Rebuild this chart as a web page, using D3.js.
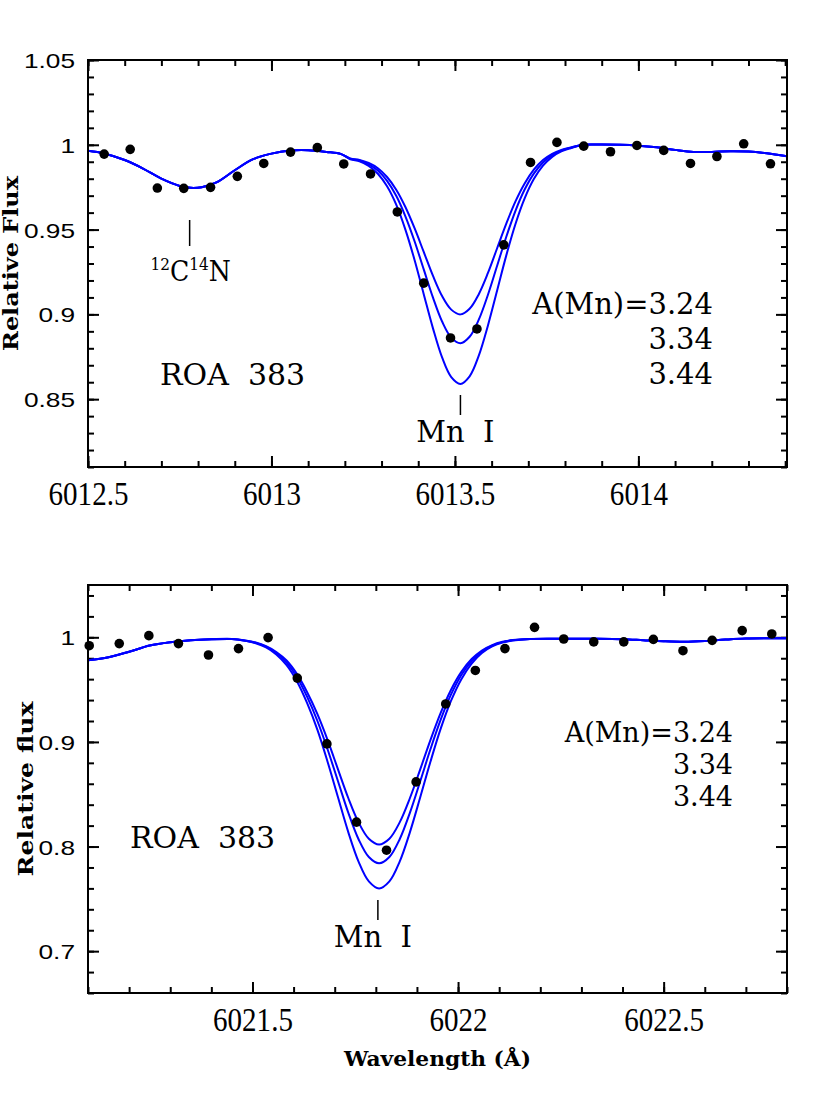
<!DOCTYPE html>
<html>
<head>
<meta charset="utf-8">
<script src="https://cdn.jsdelivr.net/npm/d3@7"></script>
<style>
  body { margin: 0; background: #fff; }
</style>
</head>
<body>
<div id="chart"></div>
<script>

// ---- data: top panel (Mn I 6013.5) ----
var topObsWave = [6012.544, 6012.615, 6012.689, 6012.761, 6012.834, 6012.907, 6012.979, 6013.052, 6013.125,
  6013.197, 6013.270, 6013.343, 6013.415, 6013.488, 6013.560, 6013.633, 6013.706, 6013.778, 6013.851,
  6013.924, 6013.996, 6014.069, 6014.142, 6014.214, 6014.287, 6014.360];
var topObsFlux = [0.9945, 0.9973, 0.9745, 0.9743, 0.9749, 0.9814, 0.9890, 0.9957, 0.9983,
  0.9887, 0.9828, 0.9604, 0.9184, 0.8861, 0.8914, 0.9410, 0.9896, 1.0014, 0.9992,
  0.9959, 0.9996, 0.9967, 0.9890, 0.9931, 1.0006, 0.9888];

var topModelWave = [6012.500, 6012.544, 6012.600, 6012.650, 6012.700, 6012.750, 6012.780, 6012.810,
  6012.850, 6012.900, 6012.950, 6013.000, 6013.050, 6013.100, 6013.150, 6013.190,
  6013.215, 6013.240, 6013.265, 6013.290, 6013.315, 6013.340, 6013.365, 6013.390, 6013.415,
  6013.440, 6013.465, 6013.490, 6013.515, 6013.540, 6013.565, 6013.590, 6013.615, 6013.640,
  6013.665, 6013.690, 6013.715, 6013.740, 6013.765, 6013.790, 6013.815,
  6013.850, 6013.900, 6013.950, 6014.000, 6014.050, 6014.100, 6014.150, 6014.200, 6014.250,
  6014.300, 6014.350, 6014.405];
var topModel324 = [0.9965, 0.9949, 0.9910, 0.9860, 0.9800, 0.9757, 0.9746, 0.9750,
  0.9778, 0.9850, 0.9915, 0.9948, 0.9966, 0.9968, 0.9958, 0.9945,
  0.9919, 0.9911, 0.9893, 0.9862, 0.9810, 0.9735, 0.9633, 0.9508, 0.9368,
  0.9228, 0.9108, 0.9028, 0.9000, 0.9033, 0.9119, 0.9244, 0.9390, 0.9535,
  0.9666, 0.9772, 0.9853, 0.9910, 0.9947, 0.9970, 0.9984,
  1.0000, 1.0001, 1.0000, 0.9995, 0.9985, 0.9970, 0.9958, 0.9958, 0.9962,
  0.9960, 0.9950, 0.9932];
var topModel334 = [0.9965, 0.9949, 0.9910, 0.9860, 0.9800, 0.9757, 0.9746, 0.9750,
  0.9778, 0.9850, 0.9915, 0.9948, 0.9966, 0.9968, 0.9958, 0.9945,
  0.9917, 0.9907, 0.9885, 0.9848, 0.9787, 0.9699, 0.9578, 0.9431, 0.9265,
  0.9100, 0.8958, 0.8863, 0.8830, 0.8868, 0.8969, 0.9116, 0.9287, 0.9458,
  0.9611, 0.9736, 0.9830, 0.9896, 0.9939, 0.9966, 0.9982,
  1.0000, 1.0001, 1.0000, 0.9995, 0.9985, 0.9970, 0.9958, 0.9958, 0.9962,
  0.9960, 0.9950, 0.9932];
var topModel344 = [0.9965, 0.9949, 0.9910, 0.9860, 0.9800, 0.9757, 0.9746, 0.9750,
  0.9778, 0.9850, 0.9915, 0.9948, 0.9966, 0.9968, 0.9958, 0.9945,
  0.9915, 0.9902, 0.9875, 0.9829, 0.9755, 0.9647, 0.9500, 0.9321, 0.9119,
  0.8919, 0.8746, 0.8630, 0.8590, 0.8635, 0.8757, 0.8935, 0.9141, 0.9348,
  0.9533, 0.9684, 0.9798, 0.9877, 0.9929, 0.9961, 0.9980,
  1.0000, 1.0001, 1.0000, 0.9995, 0.9985, 0.9970, 0.9958, 0.9958, 0.9962,
  0.9960, 0.9950, 0.9932];

var topXTicks = [6012.5, 6013, 6013.5, 6014];
var topYTicks = [0.85, 0.9, 0.95, 1, 1.05];

// ---- data: bottom panel (Mn I 6021.8) ----
var botObsWave = [6021.103, 6021.176, 6021.248, 6021.320, 6021.393, 6021.466, 6021.538, 6021.609,
  6021.681, 6021.753, 6021.826, 6021.898, 6021.970, 6022.042, 6022.114, 6022.186, 6022.257,
  6022.330, 6022.403, 6022.475, 6022.547, 6022.618, 6022.691, 6022.763];
var botObsFlux = [0.9920, 0.9940, 1.0016, 0.9940, 0.9831, 0.9892, 0.9997, 0.9610,
  0.8981, 0.8233, 0.7965, 0.8618, 0.9363, 0.9683, 0.9892, 1.0095, 0.9984,
  0.9956, 0.9956, 0.9980, 0.9872, 0.9971, 1.0064, 1.0032];

var botModelWave = [6021.100, 6021.150, 6021.200, 6021.250, 6021.300, 6021.350, 6021.400, 6021.450,
  6021.483, 6021.508, 6021.533, 6021.558, 6021.583, 6021.608, 6021.633, 6021.658, 6021.683,
  6021.708, 6021.733, 6021.758, 6021.783, 6021.808, 6021.833, 6021.858, 6021.883, 6021.908,
  6021.933, 6021.958, 6021.983, 6022.008, 6022.033, 6022.058, 6022.083, 6022.108, 6022.133,
  6022.175, 6022.250, 6022.325, 6022.400, 6022.450, 6022.500, 6022.550, 6022.600, 6022.650,
  6022.700, 6022.800];
var botModel324 = [0.9780, 0.9810, 0.9862, 0.9921, 0.9953, 0.9972, 0.9981, 0.9984,
  0.9970, 0.9950, 0.9915, 0.9860, 0.9778, 0.9650, 0.9475, 0.9265, 0.9015,
  0.8738, 0.8464, 0.8231, 0.8075, 0.8020, 0.8075, 0.8231, 0.8464, 0.8738,
  0.9020, 0.9280, 0.9499, 0.9669, 0.9792, 0.9874, 0.9926, 0.9957, 0.9974,
  0.9985, 0.9987, 0.9986, 0.9982, 0.9972, 0.9962, 0.9957, 0.9964, 0.9978,
  0.9988, 0.9990];
var botModel334 = [0.9780, 0.9810, 0.9862, 0.9921, 0.9953, 0.9972, 0.9981, 0.9984,
  0.9968, 0.9947, 0.9910, 0.9850, 0.9758, 0.9620, 0.9430, 0.9200, 0.8925,
  0.8624, 0.8324, 0.8070, 0.7900, 0.7840, 0.7900, 0.8070, 0.8324, 0.8624,
  0.8932, 0.9215, 0.9454, 0.9640, 0.9773, 0.9864, 0.9920, 0.9954, 0.9972,
  0.9985, 0.9987, 0.9986, 0.9982, 0.9972, 0.9962, 0.9957, 0.9964, 0.9978,
  0.9988, 0.9990];
var botModel344 = [0.9780, 0.9810, 0.9862, 0.9921, 0.9953, 0.9972, 0.9981, 0.9984,
  0.9966, 0.9943, 0.9903, 0.9836, 0.9733, 0.9580, 0.9370, 0.9115, 0.8806,
  0.8471, 0.8138, 0.7856, 0.7667, 0.7600, 0.7667, 0.7856, 0.8138, 0.8471,
  0.8813, 0.9129, 0.9394, 0.9600, 0.9749, 0.9850, 0.9913, 0.9950, 0.9970,
  0.9985, 0.9987, 0.9986, 0.9982, 0.9972, 0.9962, 0.9957, 0.9964, 0.9978,
  0.9988, 0.9990];

var botXTicks = [6021.5, 6022, 6022.5];
var botYTicks = [0.7, 0.8, 0.9, 1];

var abundances = ["3.24", "3.34", "3.44"];


// ---- page ----
var width = 830,
    height = 1106,
    left = 88,
    right = 787;

var svg = d3.select("#chart").append("svg")
    .attr("width", width)
    .attr("height", height);

var sansFont = "'Liberation Sans', Arial, sans-serif",
    serifFont = "'DejaVu Serif', serif",
    tickFont = "'Liberation Serif', serif";

// squeeze or stretch a text to a fraction of its natural width
function squeeze(sel, factor) {
  sel.each(function() {
    var len = this.getComputedTextLength();
    d3.select(this).attr("textLength", len * factor).attr("lengthAdjust", "spacingAndGlyphs");
  });
}

function drawPanel(p, id) {
  var x = d3.scaleLinear().domain(p.xDomain).range([left, right]);
  var y = d3.scaleLinear().domain(p.yDomain).range([p.bottom, p.top]);
  var g = svg.append("g");

  var xMinor = d3.range(Math.ceil(p.xDomain[0] * 10 - 1e-6), Math.floor(p.xDomain[1] * 10 + 1e-6) + 1)
      .map(function(i) { return i / 10; });
  var yMinor = d3.range(Math.ceil(p.yDomain[0] / p.yStep - 1e-6), Math.floor(p.yDomain[1] / p.yStep + 1e-6) + 1)
      .map(function(i) { return +(i * p.yStep).toFixed(3); });

  // inward ticks on all four sides, minor then major
  function tickSet(axis, transform, values, size, labels) {
    var a = axis.tickValues(values).tickSizeInner(-size).tickSizeOuter(0);
    if (!labels) a.tickFormat("");
    var ax = g.append("g").attr("transform", transform).call(a);
    ax.select(".domain").remove();
    ax.selectAll("line").attr("stroke", "#000").attr("stroke-width", 2);
    return ax;
  }
  var bt = "translate(0," + p.bottom + ")",
      tt = "translate(0," + p.top + ")",
      lt = "translate(" + left + ",0)",
      rt = "translate(" + right + ",0)";

  tickSet(d3.axisBottom(x), bt, xMinor, 6, false);
  tickSet(d3.axisTop(x), tt, xMinor, 6, false);
  tickSet(d3.axisLeft(y), lt, yMinor, 6, false);
  tickSet(d3.axisRight(y), rt, yMinor, 6, false);
  tickSet(d3.axisTop(x), tt, p.xTicks, 11, false);
  tickSet(d3.axisRight(y), rt, p.yTicks, 11, false);

  var xa = tickSet(d3.axisBottom(x).tickFormat(function(d) { return String(d); }), bt, p.xTicks, 11, true);
  xa.selectAll("text")
      .attr("y", 38).attr("dy", 0)
      .style("font-family", tickFont).style("font-size", "33px").attr("fill", "#000");
  squeeze(xa.selectAll("text"), 0.88);

  var ya = tickSet(d3.axisLeft(y).tickFormat(function(d) { return String(d); }).tickPadding(13), lt, p.yTicks, 11, true);
  ya.selectAll("text")
      .attr("dy", "0.36em")
      .style("font-family", sansFont).style("font-size", "21px").attr("fill", "#000");
  squeeze(ya.selectAll("text"), 1.25);

  // model spectra
  svg.append("clipPath").attr("id", "clip" + id)
    .append("rect").attr("x", left).attr("y", p.top).attr("width", right - left).attr("height", p.bottom - p.top);

  var line = d3.line()
      .x(function(d) { return x(d[0]); })
      .y(function(d) { return y(d[1]); })
      .curve(d3.curveCatmullRom.alpha(0.5));

  p.models.forEach(function(m) {
    g.append("path")
        .datum(d3.zip(p.modelWave, m))
        .attr("clip-path", "url(#clip" + id + ")")
        .attr("d", line)
        .attr("fill", "none")
        .attr("stroke", "#0000ff")
        .attr("stroke-width", 2);
  });

  // observed points
  g.selectAll("circle.obs")
    .data(d3.zip(p.obsWave, p.obsFlux))
    .enter()
    .append("circle")
      .attr("class", "obs")
      .attr("cx", function(d) { return x(d[0]); })
      .attr("cy", function(d) { return y(d[1]); })
      .attr("r", 4.8)
      .attr("fill", "#000");

  // frame
  g.append("rect")
      .attr("x", left).attr("y", p.top)
      .attr("width", right - left).attr("height", p.bottom - p.top)
      .attr("fill", "none").attr("stroke", "#000").attr("stroke-width", 2);

  // y title
  g.append("text")
      .attr("transform", "translate(" + p.yTitleX + "," + ((p.top + p.bottom) / 2) + ") rotate(-90)")
      .attr("text-anchor", "middle")
      .style("font-family", serifFont).style("font-weight", "bold").style("font-size", "20px")
      .attr("textLength", 175).attr("lengthAdjust", "spacingAndGlyphs")
      .text(p.yTitle);

  // star name
  g.append("text")
      .attr("x", p.starX).attr("y", p.starY)
      .style("font-family", serifFont).style("font-size", "30px")
      .attr("xml:space", "preserve")
      .text("ROA  383");

  // abundance labels, one text block
  var ab = g.append("text")
      .attr("text-anchor", "end")
      .style("font-family", serifFont).style("font-size", p.abSize + "px");
  ab.selectAll("tspan")
    .data(abundances)
    .enter()
    .append("tspan")
      .attr("x", p.abX)
      .attr("y", function(d, i) { return p.abY + i * p.abGap; })
      .text(function(d, i) { return i == 0 ? "A(Mn)=" + d : d; });

  // Mn I identification
  g.append("line")
      .attr("x1", x(p.mnWave)).attr("x2", x(p.mnWave))
      .attr("y1", p.mnTickY).attr("y2", p.mnTickY + 20)
      .attr("stroke", "#000").attr("stroke-width", 1.5);
  g.append("text")
      .attr("x", x(p.mnWave) - 5).attr("y", p.mnTickY + 47)
      .attr("text-anchor", "middle")
      .attr("xml:space", "preserve")
      .style("font-family", serifFont).style("font-size", "29px")
      .text("Mn  I");

  return x;
}

var xTop = drawPanel({
  top: 60, bottom: 467,
  xDomain: [6012.5, 6014.405], yDomain: [0.81, 1.05], yStep: 0.01,
  xTicks: topXTicks, yTicks: topYTicks,
  obsWave: topObsWave, obsFlux: topObsFlux,
  modelWave: topModelWave, models: [topModel324, topModel334, topModel344],
  yTitle: "Relative Flux", yTitleX: 18,
  starX: 160, starY: 385,
  abX: 713, abY: 314, abGap: 35, abSize: 29,
  mnWave: 6013.515, mnTickY: 395
}, 1);

drawPanel({
  top: 585, bottom: 993,
  xDomain: [6021.1, 6022.8], yDomain: [0.66, 1.05], yStep: 0.02,
  xTicks: botXTicks, yTicks: botYTicks,
  obsWave: botObsWave, obsFlux: botObsFlux,
  modelWave: botModelWave, models: [botModel324, botModel334, botModel344],
  yTitle: "Relative flux", yTitleX: 33,
  starX: 130, starY: 848,
  abX: 733, abY: 742, abGap: 32, abSize: 27,
  mnWave: 6021.805, mnTickY: 900
}, 2);

// CN feature in the top panel
var cnWave = 6012.777;
svg.append("line")
    .attr("x1", xTop(cnWave)).attr("x2", xTop(cnWave))
    .attr("y1", 220).attr("y2", 246)
    .attr("stroke", "#000").attr("stroke-width", 1.5);
var cn = svg.append("text")
    .attr("x", xTop(cnWave) + 1).attr("y", 281)
    .attr("text-anchor", "middle")
    .style("font-family", serifFont).style("font-size", "28px");
cn.append("tspan").style("font-size", "17px").attr("dy", -11).text("12");
cn.append("tspan").attr("dy", 11).text("C");
cn.append("tspan").style("font-size", "17px").attr("dy", -11).text("14");
cn.append("tspan").attr("dy", 11).text("N");
squeeze(cn, 0.9);

// x title
svg.append("text")
    .attr("x", (left + right) / 2)
    .attr("y", 1066)
    .attr("text-anchor", "middle")
    .style("font-family", serifFont).style("font-weight", "bold").style("font-size", "20px")
    .attr("textLength", 187).attr("lengthAdjust", "spacingAndGlyphs")
    .text("Wavelength (Å)");

</script>
</body>
</html>
